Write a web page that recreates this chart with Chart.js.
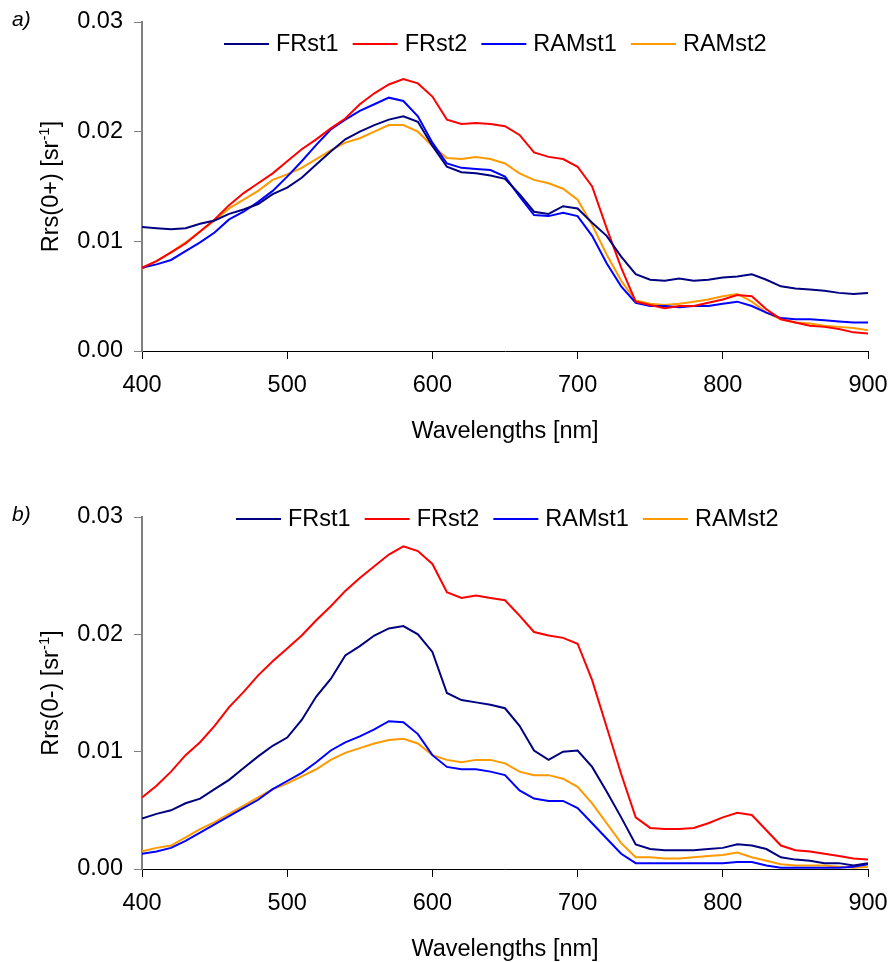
<!DOCTYPE html>
<html><head><meta charset="utf-8">
<script src="https://cdn.jsdelivr.net/npm/chart.js@4.4.0/dist/chart.umd.min.js"></script>
<style>
html,body{margin:0;padding:0;background:#fff;}
#wrap{position:relative;width:893px;height:962px;overflow:hidden;}
#wrap canvas{position:absolute;left:0;}
</style></head><body>
<div id="wrap">
<canvas id="ca" width="893" height="481" style="top:0px"></canvas>
<canvas id="cb" width="893" height="481" style="top:481px"></canvas>
</div>
<script>
// ---------- data ----------
const wavelengths = [400,410,420,430,440,450,460,470,480,490,500,510,520,530,540,550,560,570,580,590,600,610,620,630,640,650,660,670,680,690,700,710,720,730,740,750,760,770,780,790,800,810,820,830,840,850,860,870,880,890,900];
const seriesNames = ['FRst1','FRst2','RAMst1','RAMst2'];
const xTicks = [400,500,600,700,800,900];
const yTicks = [0.00,0.01,0.02,0.03];

// panel a) Rrs(0+)
const a_FRst1 = [.0113,.0112,.0111,.0112,.0116,.0119,.0125,.0129,.0134,.0143,.0149,.0158,.0170,.0182,.0193,.0200,.0206,.0211,.0214,.0209,.0187,.0168,.0163,.0162,.0160,.0157,.0143,.0127,.0125,.0132,.0130,.0117,.0105,.0086,.0070,.0065,.0064,.0066,.0064,.0065,.0067,.0068,.0070,.0065,.0059,.0057,.0056,.0055,.0053,.0052,.0053];
const a_FRst2 = [.0076,.0082,.0090,.0098,.0109,.0120,.0133,.0144,.0153,.0162,.0173,.0184,.0193,.0203,.0212,.0225,.0235,.0243,.0248,.0244,.0232,.0211,.0207,.0208,.0207,.0205,.0197,.0181,.0177,.0175,.0168,.0150,.0112,.0076,.0045,.0042,.0039,.0041,.0041,.0044,.0047,.0051,.0050,.0038,.0029,.0026,.0023,.0022,.0020,.0017,.0016];
const a_RAMst1 = [.0076,.0079,.0083,.0091,.0099,.0108,.0120,.0127,.0136,.0146,.0159,.0173,.0188,.0202,.0211,.0219,.0225,.0231,.0228,.0214,.0190,.0171,.0167,.0166,.0165,.0159,.0141,.0124,.0123,.0126,.0123,.0105,.0080,.0059,.0044,.0041,.0041,.0040,.0041,.0041,.0043,.0045,.0041,.0035,.0030,.0029,.0029,.0028,.0027,.0026,.0026];
const a_RAMst2 = [.0075,.0082,.0090,.0099,.0109,.0119,.0130,.0138,.0146,.0156,.0161,.0167,.0175,.0183,.0190,.0194,.0200,.0206,.0206,.0200,.0187,.0176,.0175,.0177,.0175,.0171,.0162,.0156,.0153,.0148,.0138,.0115,.0088,.0064,.0046,.0043,.0042,.0043,.0045,.0047,.0050,.0052,.0045,.0035,.0029,.0026,.0025,.0023,.0022,.0021,.0019];

// panel b) Rrs(0-)
const b_FRst1 = [.0043,.0047,.0050,.0056,.0060,.0068,.0076,.0086,.0096,.0105,.0112,.0127,.0147,.0162,.0182,.0190,.0199,.0205,.0207,.0200,.0185,.0150,.0144,.0142,.0140,.0137,.0122,.0101,.0093,.0100,.0101,.0087,.0066,.0044,.0021,.0017,.0016,.0016,.0016,.0017,.0018,.0021,.0020,.0017,.0010,.0008,.0007,.0005,.0005,.0003,.0005];
const b_FRst2 = [.0061,.0071,.0083,.0097,.0108,.0122,.0138,.0151,.0165,.0177,.0188,.0199,.0212,.0224,.0237,.0248,.0258,.0268,.0275,.0271,.0260,.0236,.0231,.0233,.0231,.0229,.0216,.0202,.0199,.0197,.0192,.0161,.0121,.0081,.0044,.0035,.0034,.0034,.0035,.0039,.0044,.0048,.0046,.0033,.0020,.0016,.0015,.0013,.0011,.0009,.0008];
const b_RAMst1 = [.0013,.0015,.0018,.0024,.0031,.0038,.0045,.0052,.0059,.0068,.0075,.0082,.0091,.0101,.0108,.0113,.0119,.0126,.0125,.0115,.0097,.0087,.0085,.0085,.0083,.0080,.0067,.0060,.0058,.0058,.0052,.0039,.0026,.0013,.0005,.0005,.0005,.0005,.0005,.0005,.0005,.0006,.0006,.0003,.0001,.0001,.0001,.0001,.0001,.0002,.0004];
const b_RAMst2 = [.0015,.0018,.0020,.0027,.0034,.0040,.0047,.0054,.0061,.0068,.0073,.0079,.0085,.0093,.0099,.0103,.0107,.0110,.0111,.0107,.0097,.0093,.0091,.0093,.0093,.0090,.0083,.0080,.0080,.0077,.0070,.0056,.0039,.0022,.0010,.0010,.0009,.0009,.0010,.0011,.0012,.0014,.0010,.0007,.0004,.0003,.0003,.0003,.0002,.0001,.0002];

const seriesColors = ['#000080','#FF0000','#0000FF','#FF9900'];
const FONT = '"Liberation Sans", Arial, sans-serif';

const textPlugin = {
  id: 'textPlugin',
  afterDraw(chart, args, o) {
    const ctx = chart.ctx, ca = chart.chartArea;
    ctx.save();
    ctx.fillStyle = '#000';
    ctx.textBaseline = 'alphabetic';
    // panel label
    ctx.font = 'italic 21px ' + FONT;
    ctx.textAlign = 'left';
    ctx.fillText(o.panel, 12, o.panelY);
    // x title
    ctx.font = '23.5px ' + FONT;
    ctx.textAlign = 'center';
    ctx.fillText(o.xTitle, (ca.left + ca.right) / 2, o.xTitleY);
    // y title with superscript
    ctx.save();
    ctx.translate(o.yTitleX, (ca.top + ca.bottom) / 2);
    ctx.rotate(-Math.PI / 2);
    ctx.textAlign = 'left';
    const f1 = '23.5px ' + FONT, f2 = '15px ' + FONT;
    ctx.font = f1;
    const w1 = ctx.measureText(o.yTitle).width, w3 = ctx.measureText(']').width;
    ctx.font = f2;
    const w2 = ctx.measureText(o.yTitleSup).width;
    let x = -(w1 + w2 + w3) / 2;
    ctx.font = f1; ctx.fillText(o.yTitle, x, 0); x += w1;
    ctx.font = f2; ctx.fillText(o.yTitleSup, x, -9); x += w2;
    ctx.font = f1; ctx.fillText(']', x, 0);
    ctx.restore();
    // legend
    ctx.font = '23.5px ' + FONT;
    ctx.textAlign = 'left';
    let lx = o.legendX;
    chart.data.datasets.forEach(ds => {
      ctx.strokeStyle = ds.borderColor;
      ctx.lineWidth = 2;
      ctx.beginPath();
      ctx.moveTo(lx, o.legendLineY);
      ctx.lineTo(lx + 45, o.legendLineY);
      ctx.stroke();
      ctx.fillStyle = '#000';
      ctx.fillText(ds.label, lx + 52, o.legendTextY);
      lx += 52 + ctx.measureText(ds.label).width + 14;
    });
    ctx.restore();
  }
};

function makeChart(id, series, opts) {
  const datasets = series.map((arr, i) => ({
    label: seriesNames[i],
    data: wavelengths.map((w, k) => ({x: w, y: arr[k]})),
    borderColor: seriesColors[i],
    backgroundColor: seriesColors[i],
    borderWidth: 2,
    pointRadius: 0,
    fill: false,
    tension: 0
  }));
  return new Chart(document.getElementById(id), {
    type: 'line',
    data: {datasets},
    plugins: [textPlugin],
    options: {
      responsive: false,
      animation: false,
      events: [],
      layout: {padding: {top: opts.padTop, right: 25, left: 0, bottom: 0}},
      plugins: {
        legend: {display: false},
        tooltip: {enabled: false},
        textPlugin: opts.text
      },
      scales: {
        x: {
          type: 'linear', min: 400, max: 900,
          afterBuildTicks: s => { s.ticks = xTicks.map(v => ({value: v})); },
          afterFit: s => { s.height = opts.xHeight; s.paddingLeft = 0; s.paddingRight = 0; },
          grid: {drawOnChartArea: false, tickLength: 8, color: '#000', lineWidth: 1},
          border: {color: '#000', width: 1},
          ticks: {color: '#000', font: {family: FONT, size: 23.5}, padding: 12, maxRotation: 0, autoSkip: false}
        },
        y: {
          type: 'linear', min: 0, max: 0.03,
          afterBuildTicks: s => { s.ticks = yTicks.map(v => ({value: v})); },
          afterFit: s => { s.width = 142; s.paddingTop = 0; s.paddingBottom = 0; },
          grid: {drawOnChartArea: false, tickLength: 8, color: '#808080', lineWidth: 1},
          border: {color: '#808080', width: 2},
          ticks: {color: '#000', font: {family: FONT, size: 23.5}, padding: 11,
                  callback: v => v.toFixed(2)}
        }
      }
    }
  });
}

makeChart('ca', [a_FRst1, a_FRst2, a_RAMst1, a_RAMst2], {
  padTop: 22, xHeight: 130,
  text: {panel: 'a)', panelY: 26, xTitle: 'Wavelengths [nm]', xTitleY: 438,
         yTitle: 'Rrs(0+) [sr', yTitleSup: '-1', yTitleX: 58,
         legendX: 224, legendLineY: 44, legendTextY: 51}
});
makeChart('cb', [b_FRst1, b_FRst2, b_RAMst1, b_RAMst2], {
  padTop: 36, xHeight: 93,
  text: {panel: 'b)', panelY: 40, xTitle: 'Wavelengths [nm]', xTitleY: 475,
         yTitle: 'Rrs(0-) [sr', yTitleSup: '-1', yTitleX: 58,
         legendX: 236, legendLineY: 38, legendTextY: 45}
});
</script>
</body></html>
